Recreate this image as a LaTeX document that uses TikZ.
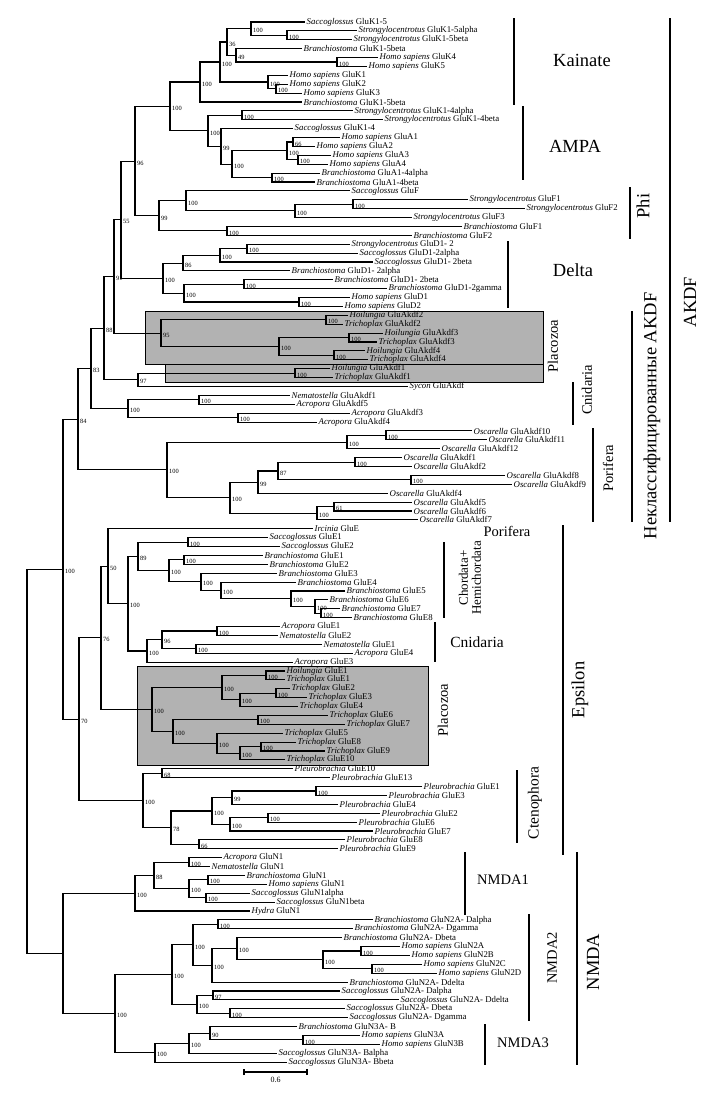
\documentclass[tikz,border=0pt]{standalone}
\usepackage{fontspec}
\setmainfont{Liberation Serif}
\usepackage{xcolor}
\usepackage{tikz}
\usetikzlibrary{calc, positioning}
\tikzset{
    branch/.style={
        line width=1.1pt,
        draw=black,
    },
    boot/.style={
        anchor=west,
        inner sep=0pt,
        xshift=2pt,
        yshift=-2pt,
        font=\fontsize{6.4}{6.4}\selectfont,
    },
    leaf/.style={
        anchor=west,
        inner sep=1.5pt,
        font=\fontsize{8.8}{9}\selectfont,
    },
    bar/.style={
        line width=2pt,
        draw=black,
    },
    bigclade/.style={
        font=\fontsize{18.5}{19}\selectfont,
    },
    smallclade/.style={
        font=\fontsize{14.5}{14.5}\selectfont,
    },
    plabox/.style={
        fill=gray!60,
        draw=black,
        line width=0.8pt,
    },
}
\newcommand{\clade}[5]{%
    \path let \p1=(#3), \p2=(#4) in coordinate (#1) at (#2pt,{0.5*\y1+0.5*\y2});
    \draw[branch] (#3) -| (#1) |- (#4);
    \node[boot] (b#1) at (#1) {#5};
}
\newcommand{\Homo}{\textit{Homo sapiens}}
\newcommand{\Sacco}{\textit{Saccoglossus}}
\newcommand{\Strongy}{\textit{Strongylocentrotus}}
\newcommand{\Branchio}{\textit{Branchiostoma}}
\newcommand{\Hoil}{\textit{Hoilungia}}
\newcommand{\Tricho}{\textit{Trichoplax}}
\newcommand{\Oscar}{\textit{Oscarella}}
\newcommand{\Acro}{\textit{Acropora}}
\newcommand{\Nemato}{\textit{Nematostella}}
\newcommand{\Pleuro}{\textit{Pleurobrachia}}

\begin{document}
\begin{tikzpicture}[x=1pt, y=-1pt]
      \useasboundingbox (0,0) rectangle (703,1093);

      \draw[plabox] (145,311) rectangle (543,364);
      \draw[plabox] (165,364) rectangle (543,382);
      \draw[plabox] (137,666) rectangle (428,765);

      \foreach \i/\tip/\lab in {
        1/305/{\Sacco{} GluK1-5}, 2/357/{\Strongy{} GluK1-5alpha}, 3/352/{\Strongy{} GluK1-5beta},
        4/302/{\Branchio{} GluK1-5beta}, 5/378/{\Homo{} GluK4}, 6/367/{\Homo{} GluK5},
        7/288/{\Homo{} GluK1}, 8/288/{\Homo{} GluK2}, 9/302/{\Homo{} GluK3},
        10/302/{\Branchio{} GluK1-5beta}, 11/353/{\Strongy{} GluK1-4alpha}, 12/383/{\Strongy{} GluK1-4beta},
        13/293/{\Sacco{} GluK1-4}, 14/340/{\Homo{} GluA1}, 15/315/{\Homo{} GluA2},
        16/331/{\Homo{} GluA3}, 17/328/{\Homo{} GluA4}, 18/320/{\Branchio{} GluA1-4alpha},
        19/315/{\Branchio{} GluA1-4beta}, 20/350/{\Sacco{} GluF}, 21/468/{\Strongy{} GluF1},
        22/525/{\Strongy{} GluF2}, 23/412/{\Strongy{} GluF3}, 24/462/{\Branchio{} GluF1},
        25/412/{\Branchio{} GluF2}, 26/350/{\Strongy{} GluD1- 2}, 27/358/{\Sacco{} GluD1-2alpha},
        28/373/{\Sacco{} GluD1- 2beta}, 29/290/{\Branchio{} GluD1- 2alpha}, 30/333/{\Branchio{} GluD1- 2beta},
        31/387/{\Branchio{} GluD1-2gamma}, 32/350/{\Homo{} GluD1}, 33/343/{\Homo{} GluD2},
        34/348/{\Hoil{} GluAkdf2}, 35/343/{\Tricho{} GluAkdf2}, 36/383/{\Hoil{} GluAkdf3},
        37/377/{\Tricho{} GluAkdf3}, 38/365/{\Hoil{} GluAkdf4}, 39/368/{\Tricho{} GluAkdf4},
        40/330/{\Hoil{} GluAkdf1}, 41/333/{\Tricho{} GluAkdf1}, 42/408/{\textit{Sycon} GluAkdf},
        43/290/{\Nemato{} GluAkdf1}, 44/295/{\Acro{} GluAkdf5}, 45/350/{\Acro{} GluAkdf3},
        46/317/{\Acro{} GluAkdf4}, 47/472/{\Oscar{} GluAkdf10}, 48/487/{\Oscar{} GluAkdf11},
        49/440/{\Oscar{} GluAkdf12}, 50/402/{\Oscar{} GluAkdf1}, 51/412/{\Oscar{} GluAkdf2},
        52/505/{\Oscar{} GluAkdf8}, 53/512/{\Oscar{} GluAkdf9}, 54/388/{\Oscar{} GluAkdf4},
        55/412/{\Oscar{} GluAkdf5}, 56/412/{\Oscar{} GluAkdf6}, 57/418/{\Oscar{} GluAkdf7},
        58/313/{\textit{Ircinia} GluE}, 59/268/{\Sacco{} GluE1}, 60/280/{\Sacco{} GluE2},
        61/263/{\Branchio{} GluE1}, 62/268/{\Branchio{} GluE2}, 63/277/{\Branchio{} GluE3},
        64/296/{\Branchio{} GluE4}, 65/345/{\Branchio{} GluE5}, 66/328/{\Branchio{} GluE6},
        67/340/{\Branchio{} GluE7}, 68/352/{\Branchio{} GluE8}, 69/280/{\Acro{} GluE1},
        70/278/{\Nemato{} GluE2}, 71/322/{\Nemato{} GluE1}, 72/353/{\Acro{} GluE4},
        73/293/{\Acro{} GluE3}, 74/285/{\Hoil{} GluE1}, 75/285/{\Tricho{} GluE1},
        76/290/{\Tricho{} GluE2}, 77/307/{\Tricho{} GluE3}, 78/298/{\Tricho{} GluE4},
        79/328/{\Tricho{} GluE6}, 80/345/{\Tricho{} GluE7}, 81/283/{\Tricho{} GluE5},
        82/296/{\Tricho{} GluE8}, 83/325/{\Tricho{} GluE9}, 84/285/{\Tricho{} GluE10},
        85/293/{\Pleuro{} GluE10}, 86/330/{\Pleuro{} GluE13}, 87/422/{\Pleuro{} GluE1},
        88/387/{\Pleuro{} GluE3}, 89/338/{\Pleuro{} GluE4}, 90/380/{\Pleuro{} GluE2},
        91/357/{\Pleuro{} GluE6}, 92/373/{\Pleuro{} GluE7}, 93/345/{\Pleuro{} GluE8},
        94/338/{\Pleuro{} GluE9}, 95/222/{\Acro{} GluN1}, 96/210/{\Nemato{} GluN1},
        97/245/{\Branchio{} GluN1}, 98/267/{\Homo{} GluN1}, 99/250/{\Sacco{} GluN1alpha},
        100/275/{\Sacco{} GluN1beta}, 101/250/{\textit{Hydra} GluN1}, 102/373/{\Branchio{} GluN2A- Dalpha},
        103/353/{\Branchio{} GluN2A- Dgamma}, 104/342/{\Branchio{} GluN2A- Dbeta}, 105/400/{\Homo{} GluN2A},
        106/410/{\Homo{} GluN2B}, 107/422/{\Homo{} GluN2C}, 108/437/{\Homo{} GluN2D},
        109/348/{\Branchio{} GluN2A- Ddelta}, 110/340/{\Sacco{} GluN2A- Dalpha}, 111/399/{\Sacco{} GluN2A- Ddelta},
        112/345/{\Sacco{} GluN2A- Dbeta}, 113/348/{\Sacco{} GluN2A- Dgamma}, 114/297/{\Branchio{} GluN3A- B},
        115/360/{\Homo{} GluN3A}, 116/380/{\Homo{} GluN3B}, 117/277/{\Sacco{} GluN3A- Balpha},
        118/287/{\Sacco{} GluN3A- Bbeta}} {
        \coordinate (t\i) at (\tip, {13.11+8.89*\i});
        \node[leaf] (l\i) at (t\i) {\lab};
      }

      \clade{k23}{287}{t2}{t3}{100}
      \clade{k123}{251}{t1}{k23}{100}
      \clade{k56}{337}{t5}{t6}{100}
      \clade{k456}{236}{t4}{k56}{49}
      \clade{kA}{227}{k123}{k456}{36}
      \clade{k89}{276}{t8}{t9}{100}
      \clade{k789}{268}{t7}{k89}{100}
      \clade{kB}{220}{kA}{k789}{100}
      \clade{kain}{200}{kB}{t10}{100}
      \clade{a1112}{242}{t11}{t12}{100}
      \clade{a1415}{293}{t14}{t15}{66}
      \clade{a1617}{298}{t16}{t17}{100}
      \clade{ahuman}{287}{a1415}{a1617}{100}
      \clade{a1819}{272}{t18}{t19}{100}
      \clade{aC}{232}{ahuman}{a1819}{100}
      \clade{aB}{221}{t13}{aC}{99}
      \clade{ampa}{208}{a1112}{aB}{100}
      \clade{kaiampa}{170}{kain}{ampa}{100}
      \clade{f2122}{353}{t21}{t22}{100}
      \clade{f23}{295}{f2122}{t23}{100}
      \clade{f20}{186}{t20}{f23}{100}
      \clade{f2425}{227}{t24}{t25}{100}
      \clade{phi}{159}{f20}{f2425}{99}
      \clade{n96}{135}{kaiampa}{phi}{96}
      \clade{d2627}{247}{t26}{t27}{100}
      \clade{d28}{220}{d2627}{t28}{100}
      \clade{d29}{183}{d28}{t29}{86}
      \clade{d3031}{244}{t30}{t31}{100}
      \clade{d3233}{299}{t32}{t33}{100}
      \clade{dlow}{184}{d3031}{d3233}{100}
      \clade{delta}{163}{d29}{dlow}{100}
      \clade{n55}{121}{n96}{delta}{55}
      \clade{p3435}{326}{t34}{t35}{100}
      \clade{p3637}{349}{t36}{t37}{100}
      \clade{p3839}{334}{t38}{t39}{100}
      \clade{p3639}{279}{p3637}{p3839}{100}
      \clade{plac}{161}{p3435}{p3639}{95}
      \clade{n91}{114}{n55}{plac}{91}
      \clade{p4041}{295}{t40}{t41}{100}
      \clade{sycon}{138}{p4041}{t42}{97}
      \clade{n88}{104}{n91}{sycon}{88}
      \clade{c4344}{199}{t43}{t44}{100}
      \clade{c4546}{238}{t45}{t46}{100}
      \clade{cnid}{128}{c4344}{c4546}{100}
      \clade{n83}{91}{n88}{cnid}{83}
      \clade{o4748}{386}{t47}{t48}{100}
      \clade{o49}{347}{o4748}{t49}{100}
      \clade{o5051}{355}{t50}{t51}{100}
      \clade{o5253}{411}{t52}{t53}{100}
      \clade{o87}{278}{o5051}{o5253}{87}
      \clade{o99}{258}{o87}{t54}{99}
      \clade{o5556}{334}{t55}{t56}{61}
      \clade{o57}{317}{o5556}{t57}{100}
      \clade{olow}{230}{o99}{o57}{100}
      \clade{oscar}{167}{o49}{olow}{100}
      \clade{akdf}{78}{n83}{oscar}{84}
      \clade{e5960}{188}{t59}{t60}{100}
      \clade{e6162}{184}{t61}{t62}{100}
      \clade{e6768}{321}{t67}{t68}{100}
      \clade{e66}{315}{t66}{e6768}{100}
      \clade{e65}{291}{t65}{e66}{100}
      \clade{e64}{221}{t64}{e65}{100}
      \clade{e63}{201}{t63}{e64}{100}
      \clade{ebra}{169}{e6162}{e63}{100}
      \clade{e89}{138}{e5960}{ebra}{89}
      \clade{e6970}{217}{t69}{t70}{100}
      \clade{e7172}{196}{t71}{t72}{100}
      \clade{e96}{162}{e6970}{e7172}{96}
      \clade{ecnid}{147}{e96}{t73}{100}
      \clade{e100}{128}{e89}{ecnid}{100}
      \clade{e50}{108}{t58}{e100}{50}
      \clade{e7475}{266}{t74}{t75}{100}
      \clade{e7677}{276}{t76}{t77}{100}
      \clade{e78}{240}{e7677}{t78}{100}
      \clade{eplA}{222}{e7475}{e78}{100}
      \clade{e7980}{258}{t79}{t80}{100}
      \clade{e8283}{261}{t82}{t83}{100}
      \clade{e84}{240}{e8283}{t84}{100}
      \clade{e81}{217}{t81}{e84}{100}
      \clade{eplB}{173}{e7980}{e81}{100}
      \clade{eplac}{152}{eplA}{eplB}{100}
      \clade{e76}{101}{e50}{eplac}{76}
      \clade{c8586}{162}{t85}{t86}{68}
      \clade{c8788}{316}{t87}{t88}{100}
      \clade{c89}{232}{c8788}{t89}{99}
      \clade{c9091}{268}{t90}{t91}{100}
      \clade{c92}{230}{c9091}{t92}{100}
      \clade{c87to92}{212}{c89}{c92}{100}
      \clade{c9394}{199}{t93}{t94}{66}
      \clade{c78}{171}{c87to92}{c9394}{78}
      \clade{cteno}{143}{c8586}{c78}{100}
      \clade{eps}{79}{e76}{cteno}{70}
      \clade{akdfeps}{63}{akdf}{eps}{100}
      \clade{m9596}{189}{t95}{t96}{100}
      \clade{m9798}{208}{t97}{t98}{100}
      \clade{m99100}{206}{t99}{t100}{100}
      \clade{mdeut}{189}{m9798}{m99100}{100}
      \clade{m88}{154}{m9596}{mdeut}{88}
      \clade{nmdaone}{135}{m88}{t101}{100}
      \clade{m102103}{218}{t102}{t103}{100}
      \clade{m105106}{361}{t105}{t106}{100}
      \clade{m107108}{372}{t107}{t108}{100}
      \clade{mhuman}{323}{m105106}{m107108}{100}
      \clade{m104}{237}{t104}{mhuman}{100}
      \clade{m109}{212}{m104}{t109}{100}
      \clade{mbra}{193}{m102103}{m109}{100}
      \clade{m110111}{213}{t110}{t111}{97}
      \clade{m112113}{230}{t112}{t113}{100}
      \clade{msac}{197}{m110111}{m112113}{100}
      \clade{nmdatwo}{172}{mbra}{msac}{100}
      \clade{m115116}{303}{t115}{t116}{100}
      \clade{m90}{210}{t114}{m115116}{90}
      \clade{m117}{189}{m90}{t117}{100}
      \clade{nmdathree}{155}{m117}{t118}{100}
      \clade{m2three}{115}{nmdatwo}{nmdathree}{100}
      \clade{nmda}{63}{nmdaone}{m2three}{}
      \clade{root}{27}{akdfeps}{nmda}{}

      \draw[bar] (514,18) -- (514,105);
      \node[bigclade] (kainate) at (582,60) {Kainate};
      \draw[bar] (523,106) -- (523,180);
      \node[bigclade] (ampalab) at (575,146) {AMPA};
      \draw[bar] (630,187) -- (630,239);
      \node[bigclade, rotate=90] (philab) at (643,206) {Phi};
      \draw[bar] (508,241) -- (508,308);
      \node[bigclade] (deltalab) at (573,270) {Delta};
      \node[smallclade, rotate=90] (placakdf) at (553,346) {Placozoa};
      \draw[bar] (632,311) -- (632,522);
      \node[bigclade, rotate=90] (unclass) at (652,416) {Неклассифицированные AKDF};
      \draw[bar] (670,18) -- (670,522);
      \node[bigclade, rotate=90] (akdflab) at (690,302) {AKDF};
      \draw[bar] (573,382) -- (573,425);
      \node[smallclade, rotate=90] (cnidakdf) at (587,390) {Cnidaria};
      \draw[bar] (593,428) -- (593,522);
      \node[smallclade, rotate=90] (porakdf) at (608,468) {Porifera};
      \node[smallclade] (poreps) at (507,531) {Porifera};
      \draw[bar] (444,542) -- (444,618);
      \node[font=\fontsize{13}{13}\selectfont, rotate=90, align=center] (chordlab) at (470,578) {Chordata+\\Hemichordata};
      \draw[bar] (435,622) -- (435,662);
      \node[font=\fontsize{15.5}{16}\selectfont] (cnideps) at (477,642) {Cnidaria};
      \node[smallclade, rotate=90] (placeps) at (443,710) {Placozoa};
      \draw[bar] (563,525) -- (563,855);
      \node[bigclade, rotate=90] (epslab) at (580,690) {Epsilon};
      \draw[bar] (517,770) -- (517,843);
      \node[font=\fontsize{15.5}{16}\selectfont, rotate=90] (ctenolab) at (535,803) {Ctenophora};
      \draw[bar] (465,852) -- (465,915);
      \node[smallclade] (nmdaonelab) at (503,880) {NMDA1};
      \draw[bar] (529,914) -- (529,1021);
      \node[smallclade, rotate=90] (nmdatwolab) at (552,958) {NMDA2};
      \draw[bar] (485,1024) -- (485,1065);
      \node[smallclade] (nmdathreelab) at (523,1043) {NMDA3};
      \draw[bar] (577,852) -- (577,1065);
      \node[bigclade, rotate=90] (nmdalab) at (593,962) {NMDA};

      \coordinate (sa) at (244,1072);
      \coordinate (sb) at (307,1072);
      \draw[branch] (sa) -- (sb);
      \draw[branch] ([yshift=-3pt]sa) -- ([yshift=3pt]sa);
      \draw[branch] ([yshift=-3pt]sb) -- ([yshift=3pt]sb);
      \node[font=\fontsize{8}{8}\selectfont, below=2pt of $(sa)!0.5!(sb)$] (scalelab) {0.6};

    \end{tikzpicture}
\end{document}
